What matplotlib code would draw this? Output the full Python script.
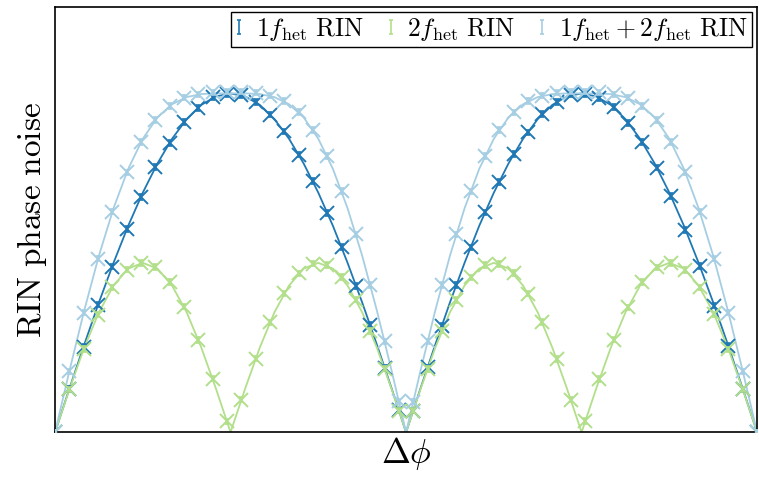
import numpy as np
import matplotlib
matplotlib.use("Agg")
import matplotlib.pyplot as plt
from matplotlib.container import ErrorbarContainer
from matplotlib.legend_handler import HandlerErrorbar

plt.rcParams['mathtext.fontset'] = 'cm'
plt.rcParams['font.family'] = ['DejaVu Serif']

# ---- data ----
# measured points (50 phase steps over 0..2pi)
phase_meas = np.linspace(0, 2 * np.pi, 50)
rin_1f = [0.000, 0.128, 0.252, 0.377, 0.489, 0.600, 0.694, 0.783, 0.853, 0.916,
          0.957, 0.988, 0.997, 0.994, 0.975, 0.937, 0.888, 0.819, 0.742, 0.647,
          0.547, 0.432, 0.316, 0.190, 0.065, 0.064, 0.192, 0.314, 0.435, 0.546,
          0.649, 0.739, 0.821, 0.885, 0.939, 0.974, 0.996, 0.998, 0.986, 0.960,
          0.913, 0.856, 0.781, 0.697, 0.597, 0.491, 0.374, 0.255, 0.127, 0.000]
rin_2f = [0.000, 0.127, 0.246, 0.347, 0.428, 0.480, 0.499, 0.488, 0.443, 0.371,
          0.272, 0.158, 0.032, 0.096, 0.217, 0.324, 0.410, 0.469, 0.498, 0.493,
          0.458, 0.391, 0.299, 0.188, 0.064, 0.064, 0.187, 0.300, 0.390, 0.457,
          0.494, 0.497, 0.470, 0.409, 0.325, 0.216, 0.096, 0.033, 0.157, 0.273,
          0.369, 0.444, 0.487, 0.500, 0.479, 0.428, 0.348, 0.245, 0.127, 0.000]
rin_12f = [0.000, 0.180, 0.353, 0.512, 0.651, 0.767, 0.857, 0.921, 0.963, 0.987,
           0.997, 1.003, 1.005, 1.005, 1.002, 0.993, 0.977, 0.945, 0.892, 0.815,
           0.712, 0.584, 0.434, 0.268, 0.091, 0.090, 0.268, 0.435, 0.584, 0.711,
           0.815, 0.892, 0.944, 0.977, 0.993, 1.002, 1.005, 1.005, 1.003, 0.997,
           0.987, 0.963, 0.922, 0.856, 0.767, 0.651, 0.512, 0.353, 0.180, 0.000]
err = 0.008

# model curves (49 phase steps over 0..2pi)
phase_line = np.linspace(0, 2 * np.pi, 49)
line_1f = [0, .131, .259, .383, .5, .609, .707, .793, .866, .924, .966, .991, 1.0,
           .991, .966, .924, .866, .793, .707, .609, .5, .383, .259, .131, 0,
           .131, .259, .383, .5, .609, .707, .793, .866, .924, .966, .991, 1.0,
           .991, .966, .924, .866, .793, .707, .609, .5, .383, .259, .131, 0]
line_2f = [0, .129, .25, .354, .433, .483, .5, .483, .433, .354, .25, .129, 0,
           .129, .25, .354, .433, .483, .5, .483, .433, .354, .25, .129, 0,
           .129, .25, .354, .433, .483, .5, .483, .433, .354, .25, .129, 0,
           .129, .25, .354, .433, .483, .5, .483, .433, .354, .25, .129, 0]
line_12f = [0, .184, .360, .521, .661, .777, .866, .929, .968, .989, .998, 1.0, 1.0,
            1.0, .998, .989, .968, .929, .866, .777, .661, .521, .360, .184, 0,
            .184, .360, .521, .661, .777, .866, .929, .968, .989, .998, 1.0, 1.0,
            1.0, .998, .989, .968, .929, .866, .777, .661, .521, .360, .184, 0]

labels = [r'$1f_{\mathrm{het}}\ \mathrm{RIN}$',
          r'$2f_{\mathrm{het}}\ \mathrm{RIN}$',
          r'$1f_{\mathrm{het}} + 2f_{\mathrm{het}}\ \mathrm{RIN}$']
colors = ['#1f78b4', '#b2df8a', '#a6cee3']

fig = plt.figure(figsize=(7.59, 4.80), dpi=100)
ax = fig.add_axes([0.0725, 0.0994, 0.925, 0.8854])

series = [(rin_1f, line_1f), (rin_2f, line_2f), (rin_12f, line_12f)]
for (meas, line), c, lab in zip(series, colors, labels):
    ax.plot(phase_line, line, color=c, lw=1.3, zorder=2)
    ax.errorbar(phase_meas, meas, yerr=err, fmt='none', ecolor=c,
                elinewidth=1.2, capsize=1.5, capthick=1.2, label=lab, zorder=3)
    ax.plot(phase_meas, meas, linestyle='none', marker='x', ms=10, mew=1.4,
            color=c, zorder=3)

ax.set_xlim(0, 2 * np.pi)
ax.set_ylim(0, 1.254)
ax.set_xticks([])
ax.set_yticks([])
for s in ax.spines.values():
    s.set_linewidth(1.2)
    s.set_color('black')

ax.set_xlabel(r'$\Delta\phi$', fontsize=25, labelpad=2)
ax.set_ylabel(r'$\mathrm{RIN\ phase\ noise}$', fontsize=24, labelpad=4)

leg = ax.legend(loc='upper right', ncol=3, fontsize=18.5, frameon=True,
                fancybox=False, edgecolor='black', framealpha=1,
                handlelength=0.3, handletextpad=0.5, columnspacing=0.9,
                borderpad=0.15, borderaxespad=0.2,
                handler_map={ErrorbarContainer: HandlerErrorbar(yerr_size=0.28, xerr_size=0.2)})
leg.get_frame().set_linewidth(1.0)

fig.savefig('out.png', dpi=100)
